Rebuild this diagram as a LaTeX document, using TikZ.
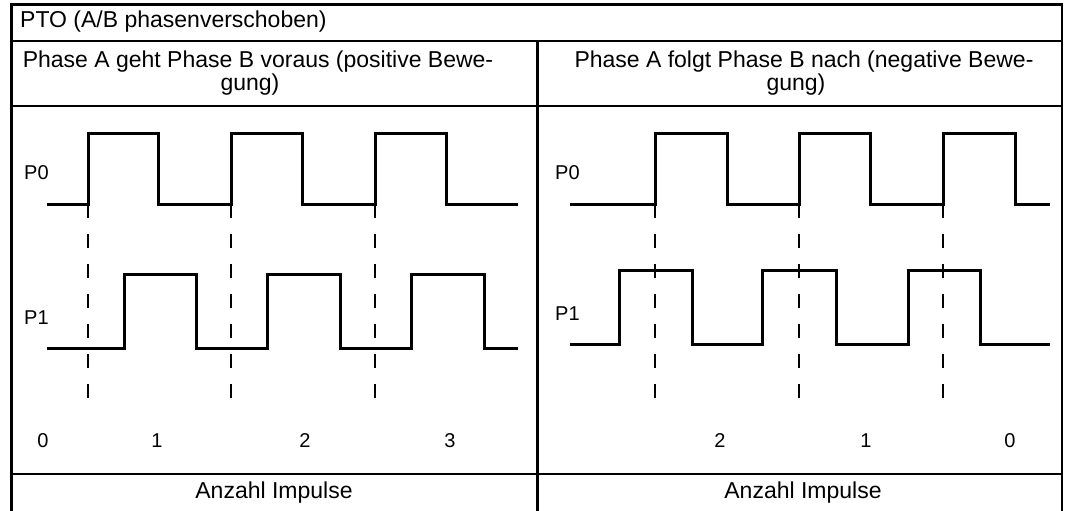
\documentclass[tikz,border=0pt]{standalone}
\usepackage{fontspec}
\setmainfont{Liberation Sans}
\begin{document}
\begin{tikzpicture}[x=1pt,y=-1pt,
  grid/.style={line width=2.8pt},
  wave/.style={line width=3pt, line join=miter},
  guide/.style={line width=1.8pt, dash pattern=on 14pt off 16pt},
  txt/.style={inner sep=0pt, font=\fontsize{23}{23}\selectfont},
  lbl/.style={inner sep=0pt, font=\fontsize{20}{24}\selectfont},
]
\useasboundingbox (0,0) rectangle (1072,511);
% table
\draw[grid] (11.5,511) -- (11.5,4.5) -- (1062,4.5) -- (1062,511);
\draw[grid] (11.5,41) -- (1062,41);
\draw[grid] (11.5,106) -- (1062,106);
\draw[grid] (11.5,474) -- (1062,474);
\draw[grid] (537.5,41) -- (537.5,511);
% texts
\node[txt, anchor=west] (title) at (20,22) {PTO (A/B phasenverschoben)};
\node[txt, align=center] (hl) at (258,73) {Phase A geht Phase B voraus (positive Bewe-\\gung)\hspace*{16pt}};
\node[txt, align=center] (hr) at (804,73) {Phase A folgt Phase B nach (negative Bewe-\\gung)\hspace*{16pt}};
\node[txt] (fl) at (274,493) {Anzahl Impulse};
\node[txt] (fr) at (803,493) {Anzahl Impulse};
% left panel labels
\node[lbl, anchor=west] (lp0) at (24,173) {P0};
\node[lbl, anchor=west] (lp1) at (24,318) {P1};
\node[lbl] (ln0) at (43,441) {0};
\node[lbl] (ln1) at (157,441) {1};
\node[lbl] (ln2) at (305,441) {2};
\node[lbl] (ln3) at (450,441) {3};
% right panel labels
\node[lbl, anchor=west] (rp0) at (555,173) {P0};
\node[lbl, anchor=west] (rp1) at (555,314) {P1};
\node[lbl] (rn2) at (720,441) {2};
\node[lbl] (rn1) at (866,441) {1};
\node[lbl] (rn0) at (1010,441) {0};
% left waveforms
\coordinate (la1) at (88,204);
\coordinate (la2) at (231,204);
\coordinate (la3) at (375,204);
\coordinate (dend) at (0,398);
\draw[wave] (46.5,204) -- (la1) -- (88,133) -- (158,133) -- (158,204) -- (la2) -- (231,133) -- (302,133) -- (302,204) -- (la3) -- (375,133) -- (446,133) -- (446,204) -- (517.5,204);
\draw[wave] (46.5,348) -- (124,348) -- (124,274) -- (196,274) -- (196,348) -- (267,348) -- (267,274) -- (340,274) -- (340,348) -- (411,348) -- (411,274) -- (484,274) -- (484,348) -- (517.5,348);
\draw[guide] (la1) -- (la1 |- dend);
\draw[guide] (la2) -- (la2 |- dend);
\draw[guide] (la3) -- (la3 |- dend);
% right waveforms
\coordinate (ra1) at (655,204);
\coordinate (ra2) at (799,204);
\coordinate (ra3) at (943,204);
\draw[wave] (569.5,204) -- (ra1) -- (655,133) -- (727,133) -- (727,204) -- (ra2) -- (799,133) -- (870,133) -- (870,204) -- (ra3) -- (943,133) -- (1015,133) -- (1015,204) -- (1050,204);
\draw[wave] (569.5,344) -- (619,344) -- (619,270) -- (692,270) -- (692,344) -- (762,344) -- (762,270) -- (836,270) -- (836,344) -- (908,344) -- (908,270) -- (980,270) -- (980,344) -- (1050,344);
\draw[guide] (ra1) -- (ra1 |- dend);
\draw[guide] (ra2) -- (ra2 |- dend);
\draw[guide] (ra3) -- (ra3 |- dend);
\end{tikzpicture}
\end{document}
